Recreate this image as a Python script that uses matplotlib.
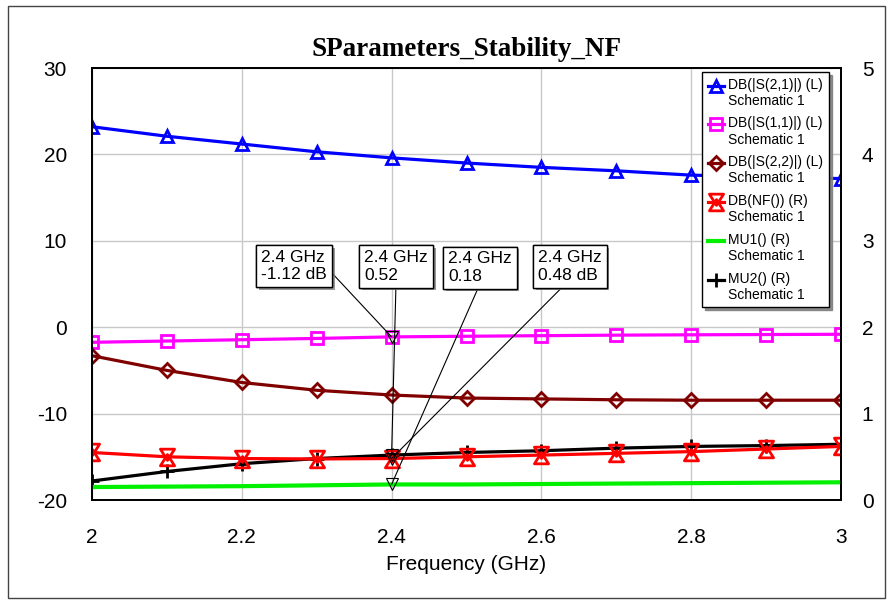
import matplotlib
matplotlib.use("Agg")
import matplotlib.pyplot as plt
from matplotlib.lines import Line2D
from matplotlib.path import Path
from matplotlib.patches import Rectangle
from matplotlib.legend_handler import HandlerLine2D
from matplotlib.transforms import Affine2D
import matplotlib.patheffects as pe

# ---- data -----------------------------------------------------------------
freq = [2.0, 2.1, 2.2, 2.3, 2.4, 2.5, 2.6, 2.7, 2.8, 2.9, 3.0]

s21_db = [23.2, 22.1, 21.2, 20.3, 19.6, 19.0, 18.5, 18.1, 17.6, 17.4, 17.2]
s11_db = [-1.75, -1.6, -1.45, -1.3, -1.12, -1.05, -0.98, -0.92, -0.88, -0.85, -0.82]
s22_db = [-3.3, -5.0, -6.4, -7.3, -7.85, -8.2, -8.3, -8.4, -8.45, -8.45, -8.45]

nf_db = [0.55, 0.50, 0.48, 0.475, 0.48, 0.50, 0.52, 0.54, 0.56, 0.59, 0.62]
mu1 = [0.15, 0.155, 0.16, 0.17, 0.18, 0.18, 0.185, 0.19, 0.195, 0.20, 0.205]
mu2 = [0.22, 0.33, 0.42, 0.48, 0.52, 0.55, 0.57, 0.60, 0.62, 0.63, 0.645]

left_ticks = [-20, -10, 0, 10, 20, 30]
right_ticks = [0, 1, 2, 3, 4, 5]
x_ticks = [2.0, 2.2, 2.4, 2.6, 2.8, 3.0]
x_tick_labels = ["2", "2.2", "2.4", "2.6", "2.8", "3"]

marker_freq = 2.4
marker_labels = [
    ("2.4 GHz\n-1.12 dB", -1.12, "L"),
    ("2.4 GHz\n0.52", 0.52, "R"),
    ("2.4 GHz\n0.18", 0.18, "R"),
    ("2.4 GHz\n0.48 dB", 0.48, "R"),
]

series_names = [
    "DB(|S(2,1)|) (L)\nSchematic 1",
    "DB(|S(1,1)|) (L)\nSchematic 1",
    "DB(|S(2,2)|) (L)\nSchematic 1",
    "DB(NF()) (R)\nSchematic 1",
    "MU1() (R)\nSchematic 1",
    "MU2() (R)\nSchematic 1",
]

# ---- style ----------------------------------------------------------------
SANS = ["Liberation Sans", "DejaVu Sans"]
plt.rcParams["font.family"] = SANS
plt.rcParams["axes.unicode_minus"] = False

# hourglass marker for the noise-figure trace
hg = Path(
    [(-0.85, 1), (0.85, 1), (0, -0.35), (-0.85, 1),
     (-0.85, -1), (0.85, -1), (0, 0.35), (-0.85, -1)],
    [Path.MOVETO, Path.LINETO, Path.LINETO, Path.CLOSEPOLY,
     Path.MOVETO, Path.LINETO, Path.LINETO, Path.CLOSEPOLY],
)

LW = 2.3
styles = [
    dict(color="#0000ff", marker="^", ms=9, mew=2, mfc="none"),
    dict(color="#ff00ff", marker="s", ms=9, mew=2, mfc="none"),
    dict(color="#800000", marker="D", ms=7, mew=2, mfc="none"),
    dict(color="#ff0000", marker=hg, ms=12, mew=2, mfc="none"),
    dict(color="#00f000", marker=None),
    dict(color="#000000", marker="+", ms=10, mew=2),
]

fig = plt.figure(figsize=(8.91, 6.0), dpi=100)
ax = fig.add_axes([92 / 891, 1 - 500 / 600, (841 - 92) / 891, (500 - 68) / 600])
ax2 = ax.twinx()

# outer frame around the whole chart
fig.patches.append(Rectangle((8 / 891, 2 / 600), (885 - 8) / 891, (594 - 2) / 600,
                             transform=fig.transFigure, fill=False,
                             edgecolor="#444444", lw=1.0))

# left-axis traces
h = []
h += ax.plot(freq, s21_db, lw=LW, **styles[0])
h += ax.plot(freq, s11_db, lw=LW, **styles[1])
h += ax.plot(freq, s22_db, lw=LW, **styles[2])

# right-axis traces
h_mu2 = ax2.plot(freq, mu2, lw=LW, **styles[5])
h_nf = ax2.plot(freq, nf_db, lw=LW, **styles[3])
h_mu1 = ax2.plot(freq, mu1, lw=LW + 0.7, **styles[4])
h += h_nf + h_mu1 + h_mu2

ax.set_xlim(2.0, 3.0)
ax.set_ylim(-20, 30)
ax2.set_ylim(0, 5)
ax.set_xticks(x_ticks)
ax.set_xticklabels(x_tick_labels)
ax.set_yticks(left_ticks)
ax2.set_yticks(right_ticks)

ax.grid(True, color="#c8c8c8", lw=1.0)
ax.set_axisbelow(True)
for a in (ax, ax2):
    for s in a.spines.values():
        s.set_color("#000000")
        s.set_linewidth(1.3)
ax.tick_params(axis="y", length=0, pad=18, labelsize=15)
ax.tick_params(axis="x", length=0, pad=20, labelsize=15)
ax2.tick_params(axis="y", length=0, pad=15, labelsize=15)

ax.set_xlabel("Frequency (GHz)", fontsize=15, labelpad=6)
ax.set_title("SParameters_Stability_NF", fontsize=19.5, fontweight="bold",
             family=["Liberation Serif", "DejaVu Serif"], pad=9)

# ---- marker read-outs at 2.4 GHz ------------------------------------------
box_pos = [(0.2697, 0.5417), (0.4059, 0.5405), (0.518, 0.538), (0.638, 0.5405)]
rel_pos = [(1.0, 0.45), (0.5, 0.0), (0.5, 0.0), (0.45, 0.0)]
for (txt, val, side), pos, rp in zip(marker_labels, box_pos, rel_pos):
    tgt = ax if side == "L" else ax2
    tgt.plot([marker_freq], [val], marker="v", ms=9, mfc="none", mec="#000000",
             mew=0.8, ls="none", zorder=6)
    an = ax2.annotate(
        txt, xy=(marker_freq, val), xycoords=tgt.transData,
        xytext=pos, textcoords=ax.transAxes, ha="center", va="center",
        multialignment="left", fontsize=12.5, zorder=7,
        bbox=dict(boxstyle="square,pad=0.28", fc="white", ec="#000000", lw=1.0),
        arrowprops=dict(arrowstyle="-", color="#000000", lw=0.8,
                        shrinkA=0, shrinkB=0, relpos=rp),
    )
    an.get_bbox_patch().set_path_effects(
        [pe.withSimplePatchShadow(offset=(2, -2), shadow_rgbFace="#808080", alpha=0.8),
         pe.Normal()])


# ---- legend -----------------------------------------------------------------
class TopAlignedHandler(HandlerLine2D):
    def create_artists(self, legend, orig_handle, xdescent, ydescent,
                       width, height, fontsize, trans):
        trans = Affine2D().translate(0, 0.55 * fontsize) + trans
        return super().create_artists(legend, orig_handle, xdescent, ydescent,
                                      width, height, fontsize, trans)


leg = ax2.legend(
    h, series_names, loc="upper left", bbox_to_anchor=(0.8144, 0.9907),
    borderaxespad=0, fontsize=10, handlelength=1.2, handletextpad=0.3,
    labelspacing=0.62, borderpad=0.4, fancybox=False, framealpha=1,
    edgecolor="#000000", shadow={"color": "#808080", "alpha": 0.9},
    handler_map={Line2D: TopAlignedHandler(numpoints=1)},
)
leg.get_frame().set_linewidth(1.0)
leg.set_zorder(10)

fig.savefig("out.png", dpi=100)
